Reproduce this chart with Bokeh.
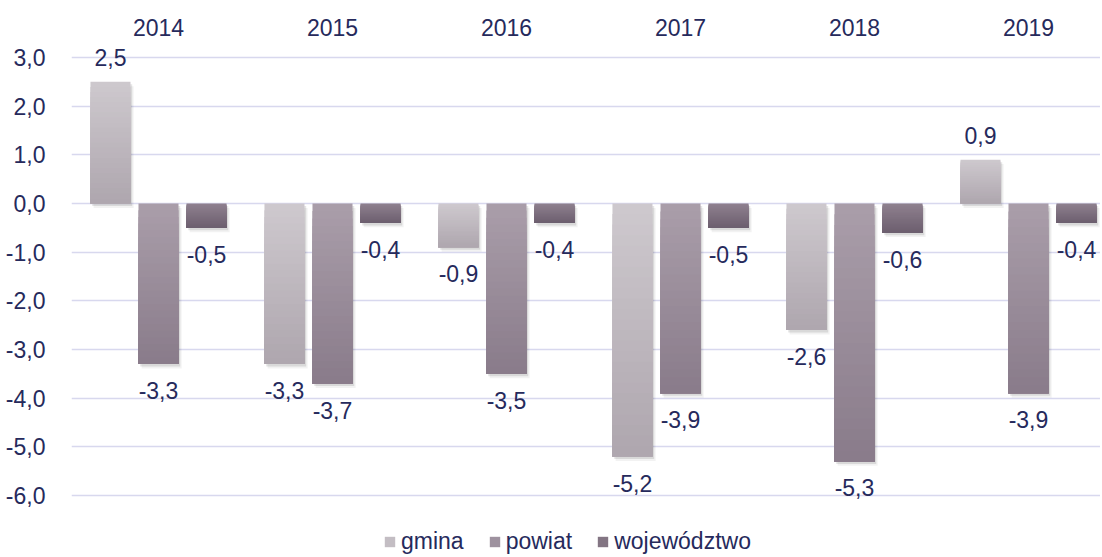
import numpy as np
from bokeh.plotting import figure
from bokeh.models import Range1d, FixedTicker, Legend, LegendItem, LabelSet, ColumnDataSource
from bokeh.core.properties import value
from bokeh.embed import file_html
from bokeh.resources import INLINE

# ---- data ----
years = ["2014", "2015", "2016", "2017", "2018", "2019"]
series = ["gmina", "powiat", "województwo"]
gmina = [2.5, -3.3, -0.9, -5.2, -2.6, 0.9]
powiat = [-3.3, -3.7, -3.5, -3.9, -5.3, -3.9]
wojewodztwo = [-0.5, -0.4, -0.4, -0.5, -0.6, -0.4]
y_ticks = [-6, -5, -4, -3, -2, -1, 0, 1, 2, 3]

# ---- style ----
FONT = "Liberation Sans"
TEXT = "#262a5c"
FS = "23px"
GRID = "#d8d8ee"
BW = 0.23
OFFS = [-0.276, 0.0, 0.276]
GRADS = [((206, 201, 206), (174, 166, 174)),
         ((170, 158, 170), (137, 123, 138)),
         ((143, 129, 143), (108, 94, 110))]

W, H = 1100, 555
TOP, LEFT = 57, 71          # pixel position of the top gridline / left of plot area
PX_PER_UNIT = 48.67
PX_PER_CAT = 174.0
y_top = max(y_ticks)
y_hi = y_top + TOP / PX_PER_UNIT
y_lo = y_top - (H - TOP) / PX_PER_UNIT
x_hi = -0.5 + (W - LEFT) / PX_PER_CAT


def lerp(c0, c1, t):
    return "#%02x%02x%02x" % tuple(int(round(a + (b - a) * t)) for a, b in zip(c0, c1))


p = figure(width=W, height=H, output_backend="svg", toolbar_location=None,
           x_range=Range1d(-0.5, x_hi), y_range=Range1d(y_lo, y_hi),
           x_axis_location=None,
           min_border_left=LEFT, min_border_right=0, min_border_top=0, min_border_bottom=0)
p.outline_line_color = None
p.background_fill_color = "white"
p.border_fill_color = "white"
p.xgrid.visible = False
p.ygrid.grid_line_color = GRID
p.ygrid.grid_line_width = 1.6

ya = p.yaxis[0]
ya.ticker = FixedTicker(ticks=y_ticks)
ya.major_label_overrides = {t: f"{t:.1f}".replace(".", ",") for t in y_ticks}
p.ygrid.ticker = FixedTicker(ticks=y_ticks)
ya.axis_line_color = None
ya.major_tick_line_color = None
ya.minor_tick_line_color = None
ya.major_label_text_font = FONT
ya.major_label_text_font_size = FS
ya.major_label_text_color = TEXT
ya.major_label_standoff = 20

# category labels along the top of the plot area
cat_src = ColumnDataSource(dict(x=list(range(len(years))), y=[y_top] * len(years), text=years))
p.add_layout(LabelSet(x="x", y="y", text="text", source=cat_src, y_offset=22,
                      text_align="center", text_baseline="alphabetic",
                      text_font=value(FONT), text_font_size=FS, text_color=TEXT))

N = 24
all_vals = [gmina, powiat, wojewodztwo]
leg_r = []
for vals, off, (c0, c1) in zip(all_vals, OFFS, GRADS):
    xs = [i + off for i in range(len(years))]
    tops = [max(v, 0) for v in vals]
    bots = [min(v, 0) for v in vals]
    # soft shadow
    for dx, dy, a in ((0.010, 0.05, 0.10), (0.018, 0.09, 0.05)):
        p.vbar(x=[x + dx for x in xs], width=BW, top=[t - dy for t in tops],
               bottom=[b - dy for b in bots], fill_color="black", fill_alpha=a, line_color=None)
    rs = []
    for j in range(N):
        t = j / N
        r = p.vbar(x=xs, width=BW, top=[tp - (tp - bt) * t for tp, bt in zip(tops, bots)],
                   bottom=bots, fill_color=lerp(c0, c1, (j + 0.5) / N), line_color=None)
        rs.append(r)
    leg_r.append(rs[N // 3])
    src = ColumnDataSource(dict(
        x=xs, y=vals,
        text=[f"{v:.1f}".replace(".", ",") for v in vals],
        yoff=[16 if v >= 0 else -35 for v in vals]))
    p.add_layout(LabelSet(x="x", y="y", text="text", source=src, y_offset="yoff",
                          text_align="center", text_baseline="alphabetic",
                          text_font=value(FONT), text_font_size=FS, text_color=TEXT))

legend = Legend(items=[LegendItem(label=s, renderers=[r]) for s, r in zip(series, leg_r)],
                orientation="horizontal", location=(312, 0))
legend.label_text_font = FONT
legend.label_text_font_size = FS
legend.label_text_color = TEXT
legend.label_standoff = 5
legend.glyph_width = 13
legend.glyph_height = 13
legend.label_height = 20
legend.spacing = 24
legend.padding = 0
legend.margin = 0
legend.border_line_color = None
legend.background_fill_alpha = 0
p.add_layout(legend, "center")

open("out.html", "w").write(file_html(p, INLINE))
